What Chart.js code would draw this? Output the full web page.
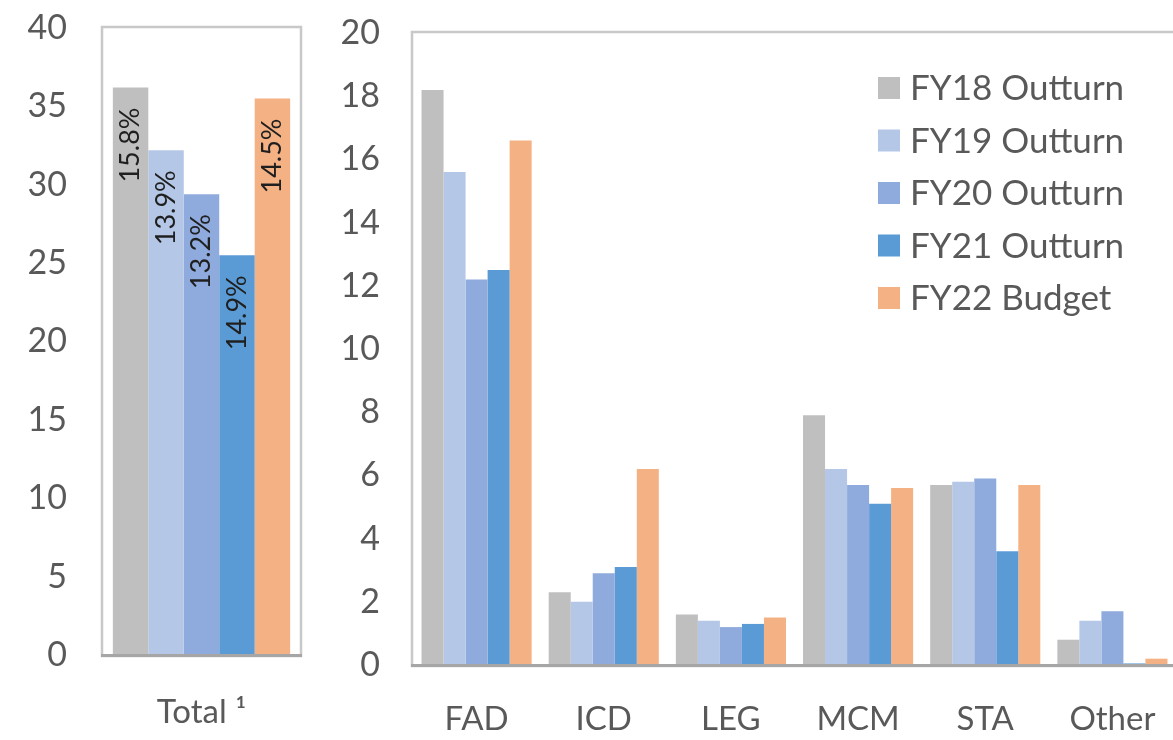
<!DOCTYPE html>
<html>
<head>
<meta charset="utf-8">
<script src="https://cdn.jsdelivr.net/npm/chart.js@4.4.0/dist/chart.umd.min.js"></script>
<style>
    html, body { margin: 0; padding: 0; background: #fff; overflow: hidden; }
    body { width: 1173px; height: 740px; position: relative; }
    #totalBox { position: absolute; left: 0; top: 0; width: 330px; height: 740px; }
    #deptBox { position: absolute; left: 330px; top: 0; width: 850px; height: 740px; }
</style>
</head>
<body>
<div id="totalBox"><canvas id="totalChart"></canvas></div>
<div id="deptBox"><canvas id="deptChart"></canvas></div>
<script>
const seriesLabels = ['FY18 Outturn', 'FY19 Outturn', 'FY20 Outturn', 'FY21 Outturn', 'FY22 Budget']
const seriesColors = ['#BFBFBF', '#B4C7E7', '#8FAADC', '#5B9BD5', '#F4B183']

// left panel: one category, one bar per year, share labels inside bars
const totalCategories = ['Total ¹']
const totalValues = [36.2, 32.2, 29.4, 25.5, 35.5]
const totalShares = ['15.8%', '13.9%', '13.2%', '14.9%', '14.5%']

// right panel: by department
const deptCategories = ['FAD', 'ICD', 'LEG', 'MCM', 'STA', 'Other']
const fy18 = [18.2, 2.3, 1.6, 7.9, 5.7, 0.8]
const fy19 = [15.6, 2.0, 1.4, 6.2, 5.8, 1.4]
const fy20 = [12.2, 2.9, 1.2, 5.7, 5.9, 1.7]
const fy21 = [12.5, 3.1, 1.3, 5.1, 3.6, 0.05]
const fy22 = [16.6, 6.2, 1.5, 5.6, 5.7, 0.2]
const deptSeries = [fy18, fy19, fy20, fy21, fy22]

const textColor = '#595959'
const font = size => ({ family: 'Lato', size: size })

Chart.defaults.animation = false

// fixed axis sizes, no extra room for the end labels
const fixHeight = h => s => { s.height = h; s.paddingLeft = 0; s.paddingRight = 0 }
const fixWidth = w => s => { s.width = w; s.paddingTop = 0; s.paddingBottom = 0 }

const framePlugin = {
    id: 'frame',
    beforeDatasetsDraw(chart) {
        const { ctx, chartArea: a } = chart
        ctx.save()
        ctx.strokeStyle = '#C8C8C8'
        ctx.lineWidth = 2.5
        ctx.strokeRect(a.left - 1, a.top - 1, a.right - a.left + 2, a.bottom - a.top + 2)
        ctx.restore()
    },
    afterDatasetsDraw(chart) {
        const { ctx, chartArea: a } = chart
        ctx.save()
        ctx.strokeStyle = '#A6A6A6'
        ctx.lineWidth = 3
        ctx.beginPath()
        ctx.moveTo(a.left - 2, a.bottom + 0.5)
        ctx.lineTo(a.right + 2, a.bottom + 0.5)
        ctx.stroke()
        ctx.restore()
    }
}

const shareLabels = {
    id: 'shareLabels',
    afterDatasetsDraw(chart) {
        const ctx = chart.ctx
        ctx.save()
        ctx.font = '27px Lato'
        ctx.fillStyle = '#1F1F1F'
        ctx.textAlign = 'right'
        ctx.textBaseline = 'middle'
        chart.data.datasets.forEach((ds, i) => {
            const bar = chart.getDatasetMeta(i).data[0]
            ctx.save()
            ctx.translate(bar.x, bar.y + 20)
            ctx.rotate(-Math.PI / 2)
            ctx.fillText(totalShares[i], 0, 0)
            ctx.restore()
        })
        ctx.restore()
    }
}

const insideLegend = {
    id: 'insideLegend',
    afterDraw(chart) {
        const { ctx, chartArea: a } = chart
        ctx.save()
        ctx.font = '35px Lato'
        ctx.textBaseline = 'middle'
        chart.data.datasets.forEach((ds, i) => {
            const x = a.right - 298
            const y = a.top + 55 + i * 52.5
            ctx.fillStyle = ds.backgroundColor
            ctx.fillRect(x, y - 11, 22, 22)
            ctx.fillStyle = textColor
            ctx.fillText(ds.label, x + 32, y + 1)
        })
        ctx.restore()
    }
}

const totalChart = new Chart(document.getElementById('totalChart'), {
    type: 'bar',
    data: {
        labels: totalCategories,
        datasets: seriesLabels.map((label, i) => ({
            label: label,
            data: [totalValues[i]],
            backgroundColor: seriesColors[i],
            borderWidth: 0,
            categoryPercentage: 0.9,
            barPercentage: 1.0
        }))
    },
    options: {
        responsive: true,
        maintainAspectRatio: false,
        layout: { padding: { top: 28, right: 30, left: 0, bottom: 0 } },
        plugins: { legend: { display: false }, tooltip: { enabled: false } },
        scales: {
            x: {
                grid: { display: false, drawTicks: false },
                border: { display: false },
                ticks: { font: font(33), color: textColor, padding: 38 },
                afterFit: fixHeight(85)
            },
            y: {
                min: 0,
                max: 40,
                grid: { display: false, drawTicks: false },
                border: { display: false },
                ticks: { stepSize: 5, font: font(34), color: textColor, padding: 36 },
                afterFit: fixWidth(103)
            }
        }
    },
    plugins: [framePlugin, shareLabels]
})

const deptChart = new Chart(document.getElementById('deptChart'), {
    type: 'bar',
    data: {
        labels: deptCategories,
        datasets: seriesLabels.map((label, i) => ({
            label: label,
            data: deptSeries[i],
            backgroundColor: seriesColors[i],
            borderWidth: 0,
            categoryPercentage: 0.866,
            barPercentage: 1.0
        }))
    },
    options: {
        responsive: true,
        maintainAspectRatio: false,
        layout: { padding: { top: 33, right: 4, left: 0, bottom: 0 } },
        plugins: { legend: { display: false }, tooltip: { enabled: false } },
        scales: {
            x: {
                grid: { display: false, drawTicks: false },
                border: { display: false },
                ticks: { font: font(33), color: textColor, padding: 35 },
                afterFit: fixHeight(75)
            },
            y: {
                min: 0,
                max: 20,
                grid: { display: false, drawTicks: false },
                border: { display: false },
                ticks: { stepSize: 2, font: font(34), color: textColor, padding: 33 },
                afterFit: fixWidth(83)
            }
        }
    },
    plugins: [framePlugin, insideLegend]
})
</script>
</body>
</html>
